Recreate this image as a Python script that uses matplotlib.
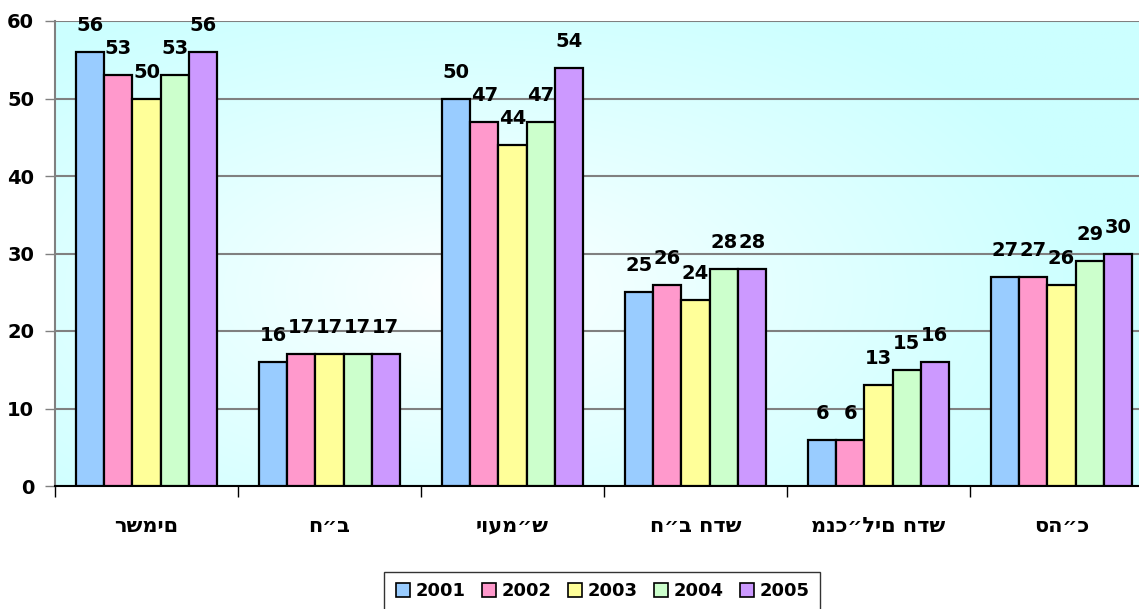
import numpy as np
import matplotlib
matplotlib.use("Agg")
import matplotlib.pyplot as plt
from matplotlib.lines import Line2D

categories = ["רשמים", "ח״ב", "יועמ״ש", "ח״ב חדש", "מנכ״לים חדש", "סה״כ"]
years = ["2001", "2002", "2003", "2004", "2005"]
v2001 = [56, 16, 50, 25, 6, 27]
v2002 = [53, 17, 47, 26, 6, 27]
v2003 = [50, 17, 44, 24, 13, 26]
v2004 = [53, 17, 47, 28, 15, 29]
v2005 = [56, 17, 54, 28, 16, 30]
series = [v2001, v2002, v2003, v2004, v2005]
colors = ["#99CCFF", "#FF99CC", "#FFFF99", "#CCFFCC", "#CC99FF"]
y_ticks = [0, 10, 20, 30, 40, 50, 60]

W, H = 1139, 609
fig = plt.figure(figsize=(W / 100, H / 100), dpi=100)
ax = fig.add_axes([55 / W, (H - 486) / H, 1098 / W, 465 / H])

# soft radial backdrop: white centre fading to pale cyan
nx, ny = 400, 250
gx, gy = np.meshgrid(np.linspace(0, 1, nx), np.linspace(0, 1, ny))
t = np.sqrt(((gx - 0.38) / 0.58) ** 2 + ((gy - 0.42) / 0.7) ** 2)
t = np.clip(t, 0, 1) ** 0.85
white = np.array([1.0, 1.0, 1.0])
cyan = np.array([0xCC, 0xFF, 0xFF]) / 255
img = white[None, None, :] * (1 - t[..., None]) + cyan[None, None, :] * t[..., None]
ax.imshow(img, extent=[0, 1, 0, 1], transform=ax.transAxes, origin="lower",
          aspect="auto", zorder=0)

n = len(series)
bw = 1 / (n + 1.5)
x = np.arange(len(categories))
for i, (vals, c) in enumerate(zip(series, colors)):
    pos = x + (i - (n - 1) / 2) * bw
    bars = ax.bar(pos, vals, width=bw, color=c, edgecolor="black",
                  linewidth=1.6, zorder=3)
    for b, v in zip(bars, vals):
        ax.annotate(str(v), (b.get_x() + b.get_width() / 2, v),
                    xytext=(0, 19), textcoords="offset points",
                    ha="center", va="center", fontsize=14,
                    fontweight="bold", color="black", zorder=5)

ax.set_xlim(-0.5, len(categories) - 0.5)
ax.set_ylim(0, 60)
ax.set_yticks(y_ticks)
ax.set_yticklabels([str(v) for v in y_ticks], fontsize=14, fontweight="bold")
ax.yaxis.grid(True, color="#808080", linewidth=1.5, zorder=1)
ax.set_axisbelow(True)

ax.set_xticks(np.arange(len(categories) + 1) - 0.5)
ax.set_xticklabels([])
ax.tick_params(axis="x", length=8, width=1, color="black", direction="out")
ax.tick_params(axis="y", length=7, width=1, color="#808080", pad=8)
for xi, name in zip(x, categories):
    ax.text(xi, -0.085, name, transform=ax.get_xaxis_transform(),
            ha="center", va="center", fontsize=15, fontweight="bold",
            family=["DejaVu Sans"])

for s in ["top", "right"]:
    ax.spines[s].set_visible(False)
ax.spines["left"].set_color("#808080")
ax.spines["left"].set_linewidth(1.5)
ax.spines["bottom"].set_color("black")
ax.spines["bottom"].set_linewidth(1.5)

handles = [Line2D([], [], marker="s", linestyle="none", markersize=10,
                  markerfacecolor=c, markeredgecolor="black", markeredgewidth=1.2)
           for c in colors]
leg = fig.legend(handles, years, loc="center", bbox_to_anchor=(602 / W, 1 - 591 / H),
                 ncol=5, frameon=True, fancybox=False, prop={"weight": "bold", "size": 13},
                 handletextpad=0.2, columnspacing=0.8, borderpad=0.55, handlelength=1.0)
leg.get_frame().set_edgecolor("black")
leg.get_frame().set_linewidth(1.0)

fig.savefig("out.png", dpi=100)
